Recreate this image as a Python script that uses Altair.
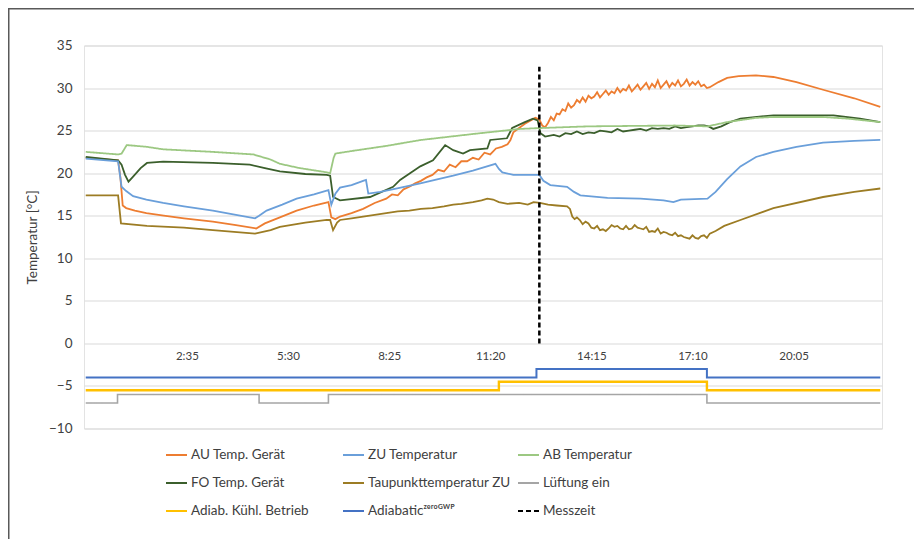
import altair as alt
import pandas as pd

# ---- data (time in minutes of the day, temperature in °C) ----
AU = [(-20,21.8),(0,21.7),(20,21.6),(36,21.5),(40,19.5),(44,16.2),(50,15.9),(65,15.6),(85,15.3),
      (115,15.0),(150,14.7),(200,14.3),(240,13.9),(275,13.5),(290,14.1),(316,14.8),(345,15.6),
      (375,16.2),(400,16.6),(405,14.8),(412,14.6),(420,14.9),(440,15.3),(460,15.8),(480,16.5),
      (500,17.0),(510,17.5),(520,17.4),(530,18.1),(540,18.4),(550,18.8),(560,19.1),(570,19.5),
      (580,19.8),(590,20.4),(600,20.2),(610,21.0),(620,20.7),(630,21.4),(640,21.4),(650,21.8),
      (660,21.6),(670,22.4),(680,22.2),(690,22.9),(700,23.1),(710,23.4),(715,23.9),(720,24.8),
      (730,25.3),(740,25.8),(750,26.2),(758,26.5),(765,26.3),(770,25.6),(775,25.4),(780,25.9),
      (785,26.6),(790,26.2),(795,27.0),(800,26.9),(805,27.5),(810,27.3),(815,28.2),(820,27.7),
      (825,28.0),(830,28.6),(835,28.3),(840,28.9),(845,28.4),(850,29.1),(855,28.8),(860,29.0),
      (865,29.5),(870,28.9),(875,29.3),(880,29.7),(885,29.2),(890,29.6),(895,29.4),(900,30.0),
      (905,29.5),(910,29.9),(915,29.7),(920,30.3),(925,29.6),(930,30.0),(935,30.4),(940,29.8),
      (945,30.2),(950,30.6),(955,29.9),(960,30.5),(965,30.1),(970,30.9),(975,30.0),(980,30.4),
      (985,30.8),(990,30.1),(995,30.6),(1000,30.3),(1005,30.9),(1010,30.2),(1015,30.5),(1020,31.0),
      (1025,30.3),(1030,30.7),(1035,30.4),(1040,30.8),(1045,30.2),(1050,30.4),(1055,30.0),(1060,30.1),
      (1075,30.7),(1090,31.2),(1110,31.4),(1140,31.5),(1170,31.3),(1210,30.7),(1256,29.8),
      (1310,28.8),(1355,27.8)]

ZU = [(-20,21.7),(36,21.4),(42,18.4),(50,17.9),(62,17.3),(85,16.9),(114,16.5),(150,16.1),(200,15.6),
      (240,15.1),(273,14.7),(280,15.0),(293,15.6),(320,16.3),(345,17.0),(375,17.5),(400,18.0),
      (405,16.3),(412,17.6),(420,18.3),(440,18.6),(460,19.1),(465,19.2),(469,17.6),(490,17.8),
      (519,18.2),(559,18.8),(590,19.3),(616,19.7),(650,20.3),(689,21.1),(695,20.5),(701,20.1),
      (720,19.8),(765,19.8),(772,19.1),(784,18.6),(813,18.4),(825,17.8),(836,17.4),(883,17.1),
      (940,17.0),(980,16.8),(997,16.6),(1010,16.9),(1056,17.0),(1070,17.8),(1090,19.3),(1113,20.8),
      (1140,21.9),(1170,22.5),(1210,23.1),(1256,23.6),(1310,23.8),(1355,23.9)]

AB = [(-20,22.5),(36,22.2),(42,22.3),(51,23.3),(85,23.1),(114,22.8),(200,22.5),(270,22.2),(300,21.6),
      (316,21.1),(350,20.6),(397,20.1),(403,20.0),(409,21.8),(412,22.3),(440,22.6),(500,23.2),
      (560,23.9),(650,24.6),(732,25.2),(766,25.3),(850,25.5),(1000,25.6),(1056,25.5),(1090,26.0),
      (1140,26.5),(1170,26.6),(1256,26.6),(1300,26.4),(1355,26.0)]

FO = [(-20,21.9),(36,21.5),(42,21.0),(48,19.8),(54,19.0),(62,19.6),(75,20.6),(86,21.2),(114,21.35),
      (200,21.2),(264,21.0),(290,20.6),(316,20.2),(360,19.9),(397,19.8),(403,19.7),(408,17.2),
      (420,16.8),(472,17.2),(512,18.4),(524,19.2),(559,20.8),(581,21.5),(602,23.3),(616,22.7),
      (633,22.3),(645,22.7),(675,22.9),(680,23.9),(709,24.1),(718,25.3),(740,26.0),(754,26.4),
      (762,26.2),(767,24.7),(775,24.3),(790,24.5),(800,24.3),(810,24.7),(820,24.6),(830,24.9),
      (840,24.6),(850,24.8),(860,24.7),(870,25.0),(880,24.9),(890,24.8),(900,25.2),(910,24.9),
      (920,25.0),(930,25.1),(940,25.2),(950,25.0),(960,25.3),(970,25.2),(980,25.3),(990,25.2),
      (1000,25.5),(1010,25.3),(1020,25.4),(1030,25.5),(1040,25.6),(1050,25.6),(1058,25.5),
      (1066,25.2),(1080,25.5),(1095,26.0),(1113,26.4),(1170,26.8),(1274,26.8),(1320,26.4),(1355,26.0)]

TAU = [(-20,17.4),(36,17.4),(41,14.1),(86,13.8),(150,13.6),(200,13.3),(273,12.9),(300,13.3),
       (316,13.7),(360,14.2),(397,14.5),(403,14.5),(408,13.3),(415,14.2),(420,14.5),(440,14.7),
       (460,14.9),(480,15.1),(500,15.3),(520,15.5),(540,15.6),(560,15.8),(580,15.9),(600,16.1),
       (616,16.3),(630,16.4),(650,16.6),(665,16.8),(675,17.0),(685,16.9),(695,16.6),(710,16.4),
       (730,16.5),(745,16.3),(755,16.6),(766,16.5),(780,16.3),(795,16.2),(813,16.1),(818,15.8),
       (822,14.9),(826,14.6),(830,14.8),(835,14.5),(840,14.0),(845,14.3),(850,14.1),(855,13.6),
       (860,13.5),(865,13.8),(870,13.3),(875,13.4),(880,13.2),(885,13.5),(890,13.9),(895,13.7),
       (900,13.8),(905,13.5),(910,13.4),(915,13.8),(920,13.4),(925,13.5),(930,13.9),(935,13.6),
       (940,13.5),(945,13.4),(950,13.7),(955,13.1),(960,13.2),(965,13.1),(970,13.5),(975,12.9),
       (980,13.1),(985,13.0),(990,12.8),(995,12.7),(1000,13.0),(1005,12.6),(1010,12.7),(1015,12.5),
       (1020,12.4),(1025,12.3),(1030,12.7),(1035,12.4),(1040,12.3),(1045,12.6),(1050,12.7),
       (1055,12.4),(1060,12.9),(1070,13.2),(1085,13.8),(1113,14.5),(1170,15.9),(1256,17.2),
       (1310,17.8),(1355,18.2)]

LUEFTUNG = [(-20,-7),(35,-6),(280,-7),(400,-6),(1055,-7),(1355,-7)]
KUEHL = [(-20,-5.5),(695,-4.5),(1055,-5.5),(1355,-5.5)]
ADIABATIC = [(-20,-4),(760,-3),(1055,-4),(1355,-4)]
MESSZEIT = [(765,0),(765,32.5)]

X_TICKS = [155, 330, 505, 680, 855, 1030, 1205]
Y_TICKS = [-10, -5, 0, 5, 10, 15, 20, 25, 30, 35]

N_AU, N_ZU, N_AB = "AU Temp. Gerät", "ZU Temperatur", "AB Temperatur"
N_FO, N_TAU, N_LUE = "FO Temp. Gerät", "Taupunkttemperatur ZU", "Lüftung ein"
N_KUE, N_ADI, N_MES = "Adiab. Kühl. Betrieb", "Adiabatic\u1dbb\u1d49\u02b3\u1d52\u1d33\u1d42\u1d3e", "Messzeit"

COL_A = [N_AU, N_FO, N_KUE]
COL_B = [N_ZU, N_TAU, N_ADI]
COL_C = [N_AB, N_LUE, N_MES]
COLORS_A = ["#ED7D31", "#3B5F2C", "#FFC000"]
COLORS_B = ["#6A9FDA", "#9C7C24", "#4472C4"]
COLORS_C = ["#9CC882", "#A5A5A5", "#000000"]

FONT = "Lato"


def df(name, pts):
    return pd.DataFrame({"t": [p[0] for p in pts], "v": [p[1] for p in pts],
                         "s": name, "i": list(range(len(pts)))})


X = alt.X("t:Q", scale=alt.Scale(domain=[-23, 1358], nice=False, zero=False),
          axis=alt.Axis(values=X_TICKS, title=None, grid=False, domain=False, ticks=False,
                        offset=-85, labelPadding=7, labelFontSize=11.5, labelColor="#404040",
                        labelFont=FONT,
                        labelExpr="floor(datum.value/60) + ':' + (datum.value % 60 < 10 ? '0' : '') + (datum.value % 60)"))
Y = alt.Y("v:Q", scale=alt.Scale(domain=[-10, 35], nice=False),
          axis=alt.Axis(values=Y_TICKS, title="Temperatur [°C]", grid=True, gridColor="#d9d9d9",
                        domain=False, ticks=False, labelPadding=12, labelFontSize=13.5,
                        labelColor="#404040", labelFont=FONT, titleFont=FONT, titleFontSize=13.5,
                        titleFontWeight="normal", titleColor="#404040", titlePadding=9))


def legend(x):
    return alt.Legend(title=None, orient="none", legendX=x, legendY=398, direction="vertical",
                      symbolType="stroke", symbolSize=441, symbolStrokeWidth=2,
                      labelFont=FONT, labelFontSize=13.5, labelColor="#404040",
                      rowPadding=10, padding=0, labelOffset=3, labelLimit=300)


def column(names, colors, lx, linear, step, dashed=None):
    sc = alt.Scale(domain=names, range=colors)
    lg = legend(lx)
    dash_sc = alt.Scale(domain=names, range=[[1, 0], [1, 0], [5, 3]])
    layers = []

    def enc(ch):
        e = dict(x=X, y=Y, color=alt.Color("s:N", scale=sc, legend=lg), order=alt.Order("i:Q"))
        if dashed is not None:
            e["strokeDash"] = alt.StrokeDash("s:N", scale=dash_sc, legend=lg)
        return ch.encode(**e)

    layers.append(enc(alt.Chart(pd.concat(linear)).mark_line(strokeWidth=1.8)))
    layers.append(enc(alt.Chart(step[0]).mark_line(interpolate="step-after", strokeWidth=step[1])))
    if dashed is not None:
        layers.append(enc(alt.Chart(dashed).mark_line(strokeWidth=2.5)))
    return alt.layer(*layers)


colA = column(COL_A, COLORS_A, 81, [df(N_AU, AU), df(N_FO, FO)], (df(N_KUE, KUEHL), 2.4))
colB = column(COL_B, COLORS_B, 258, [df(N_ZU, ZU), df(N_TAU, TAU)], (df(N_ADI, ADIABATIC), 2.0))
colC = column(COL_C, COLORS_C, 433, [df(N_AB, AB)], (df(N_LUE, LUEFTUNG), 1.6), df(N_MES, MESSZEIT))

frame = alt.Chart(pd.DataFrame({"a": [0]})).mark_rect(
    fillOpacity=0, stroke="#595959", strokeWidth=1.5).encode(
    x=alt.value(-75.25), x2=alt.value(831), y=alt.value(-36.7), y2=alt.value(520))

chart = alt.layer(colA, colB, colC, frame).resolve_scale(
    color="independent", strokeDash="independent").properties(
    width=798, height=383,
    padding={"left": 76, "top": 37.5, "right": 32, "bottom": 110},
    autosize=alt.AutoSizeParams(type="none"),
    background="white",
).configure_view(stroke="#e3e3e3")

chart.save("out.html", embed_options={"renderer": "svg", "actions": False})
